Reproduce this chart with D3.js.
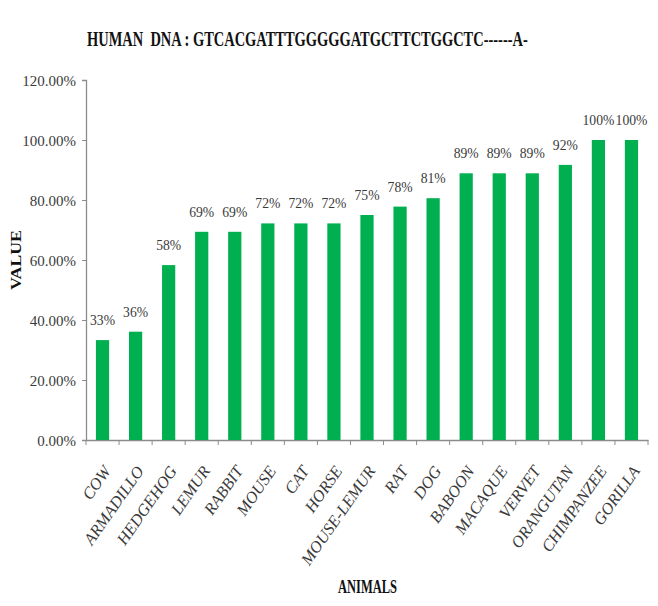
<!DOCTYPE html>
<html>
<head>
<meta charset="utf-8">
<script src="https://cdn.jsdelivr.net/npm/d3@7"></script>
<style>
  html, body { margin: 0; padding: 0; background: #fff; }
  svg { display: block; font-family: "Liberation Serif", "Times New Roman", serif; }
</style>
</head>
<body>
<svg id="chart" width="658" height="606"></svg>
<script>
// ---- data ----
const categories = ["COW","ARMADILLO","HEDGEHOG","LEMUR","RABBIT","MOUSE","CAT","HORSE","MOUSE-LEMUR","RAT","DOG","BABOON","MACAQUE","VERVET","ORANGUTAN","CHIMPANZEE","GORILLA"];
const values = [0.333,0.361,0.583,0.694,0.694,0.722,0.722,0.722,0.75,0.778,0.806,0.889,0.889,0.889,0.917,1.0,1.0];
const yTicks = [0,0.2,0.4,0.6,0.8,1.0,1.2];
const titleText = "HUMAN  DNA : GTCACGATTTGGGGGATGCTTCTGGCTC------A-";
const xTitle = "ANIMALS";
const yTitle = "VALUE";

(function () {
const svg = d3.select("#chart");
const mLeft = 86, mRight = 648, mTop = 80, mBottom = 440;

const x = d3.scaleBand().domain(categories).range([mLeft, mRight]).paddingInner(0.6).paddingOuter(0.3);
const y = d3.scaleLinear().domain([0, 1.2]).range([mBottom, mTop]);

const axisColor = "#8c8c8c";
const textColor = "#3a3a3a";

// y axis
const yAxis = svg.append("g").attr("transform", `translate(${mLeft},0)`)
  .call(d3.axisLeft(y).tickValues(yTicks).tickFormat(d3.format(".2%")).tickSize(4).tickPadding(6));
yAxis.select(".domain").attr("stroke", axisColor).attr("stroke-width", 1.3);
yAxis.selectAll(".tick line").attr("stroke", axisColor);
yAxis.selectAll(".tick text")
  .attr("font-family", "Liberation Serif, serif").attr("font-size", 15).attr("fill", textColor)
  .attr("dy", "0.35em");

// x axis (line + boundary ticks)
const xAxis = svg.append("g").attr("transform", `translate(0,${mBottom})`)
  .call(d3.axisBottom(x).tickSize(0).tickFormat(""));
xAxis.select(".domain").attr("stroke", axisColor).attr("stroke-width", 1.3);
xAxis.selectAll(".tick").remove();
const bounds = d3.range(categories.length + 1).map(i => x.range()[0] + i * x.step());
xAxis.selectAll("line.bt").data(bounds).join("line")
  .attr("class", "bt").attr("x1", d => d).attr("x2", d => d)
  .attr("y1", 0).attr("y2", 5).attr("stroke", axisColor);

// bars
svg.append("g").selectAll("rect").data(categories).join("rect")
  .attr("x", d => x(d))
  .attr("width", x.bandwidth())
  .attr("y", (d, i) => y(values[i]))
  .attr("height", (d, i) => y(0) - y(values[i]))
  .attr("fill", "#00B050");

// data labels
const fmt = d3.format(".0%");
svg.append("g").selectAll("text").data(categories).join("text")
  .attr("transform", (d, i) => `translate(${x(d) + x.bandwidth() / 2},${y(values[i]) - 15}) scale(0.88,1)`)
  .attr("text-anchor", "middle")
  .attr("font-size", 15.5)
  .attr("fill", textColor)
  .text((d, i) => fmt(values[i]));

// x category labels
svg.append("g").selectAll("text").data(categories).join("text")
  .attr("transform", d => `translate(${x(d) + x.bandwidth() / 2 + 9},${mBottom + 31}) rotate(-55)`)
  .attr("text-anchor", "end")
  .attr("font-size", 16.5)
  .attr("font-style", "italic")
  .attr("fill", textColor)
  .text(d => d);

// condensed text helper: scale horizontally to a target width
function condensed(sel, targetWidth) {
  const w = sel.node().getComputedTextLength();
  return w > 0 ? targetWidth / w : 1;
}

// title
const tG = svg.append("g");
const tT = tG.append("text")
  .attr("font-size", 21).attr("font-weight", "bold").attr("fill", "#111")
  .style("white-space", "pre")
  .text(titleText);
tG.attr("transform", `translate(87,46) scale(${condensed(tT, 441)},1)`);

// axis titles
const xG = svg.append("g");
const xT = xG.append("text")
  .attr("font-size", 18).attr("font-weight", "bold").attr("fill", "#111")
  .text(xTitle);
xG.attr("transform", `translate(338,593) scale(${condensed(xT, 59)},1)`);

const yG = svg.append("g");
const yT = yG.append("text")
  .attr("font-size", 14).attr("font-weight", "bold").attr("fill", "#111")
  .text(yTitle);
yG.attr("transform", `translate(21,290) rotate(-90) scale(${condensed(yT, 60)},1)`);
})();
</script>
</body>
</html>
